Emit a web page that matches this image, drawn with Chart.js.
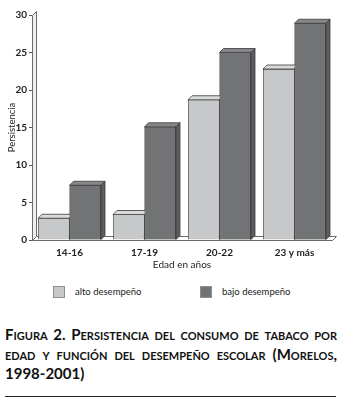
<!DOCTYPE html>
<html>
<head>
<meta charset="utf-8">
<script src="https://cdn.jsdelivr.net/npm/chart.js@4.4.0/dist/chart.umd.min.js"></script>
<style>
  html,body{margin:0;padding:0;background:#fff;}
  body{width:346px;height:400px;position:relative;overflow:hidden;font-family:Lato,"Open Sans",sans-serif;color:#222;}
  #c{position:absolute;left:0;top:0;}
  .leg{position:absolute;top:286px;font-size:9.5px;line-height:12px;display:flex;align-items:center;color:#1a1a1a;}
  .leg i{display:inline-block;width:12px;height:12px;border:1px solid #8d8e90;margin-right:10px;box-sizing:border-box;}
  #cap{position:absolute;left:5px;top:325px;width:332px;font-weight:bold;font-size:15px;line-height:19.5px;font-variant:small-caps;color:#111;}
  #cap div{text-align:justify;text-align-last:justify;white-space:nowrap;}
  #cap div.last{text-align-last:left;}
  #rule{position:absolute;left:5px;top:396px;width:331px;border-top:1px solid #222;}
</style>
</head>
<body>
<canvas id="c" width="346" height="275"></canvas>
<div class="leg" id="leg0" style="left:53px"><i style="background:#c6c8c9"></i><span></span></div>
<div class="leg" id="leg1" style="left:200px"><i style="background:#727375"></i><span></span></div>
<div id="cap">
  <div>Figura 2. Persistencia del consumo de tabaco por</div>
  <div>edad y función del desempeño escolar (Morelos,</div>
  <div class="last">1998-2001)</div>
</div>
<div id="rule"></div>
<script>
const categories = ["14-16", "17-19", "20-22", "23 y más"];
const seriesNames = ["alto desempeño", "bajo desempeño"];
const altoDesempeno = [2.9, 3.4, 18.7, 22.8];
const bajoDesempeno = [7.3, 15.1, 25.0, 28.9];
const yTicks = [0, 5, 10, 15, 20, 25, 30];

document.querySelector('#leg0 span').textContent = seriesNames[0];
document.querySelector('#leg1 span').textContent = seriesNames[1];

const D = 4;
const shades = [
  {front:'#c6c8c9', top:'#d9dadb', side:'#a9abac'},
  {front:'#727375', top:'#86878a', side:'#5c5d5f'}
];
function drawTopSide(ctx, bar, sh){
  const p = bar.getProps(['x','y','base','width'], true);
  const l = p.x - p.width/2, r = p.x + p.width/2, t = p.y, b = p.base;
  ctx.fillStyle = sh.top;
  ctx.beginPath();
  ctx.moveTo(l,t); ctx.lineTo(l+D,t-D); ctx.lineTo(r+D,t-D); ctx.lineTo(r,t); ctx.closePath();
  ctx.fill(); ctx.stroke();
  ctx.fillStyle = sh.side;
  ctx.beginPath();
  ctx.moveTo(r,t); ctx.lineTo(r+D,t-D); ctx.lineTo(r+D,b-D); ctx.lineTo(r,b); ctx.closePath();
  ctx.fill(); ctx.stroke();
}
const bar3d = {
  id:'bar3d',
  beforeDatasetsDraw(chart){
    const {ctx, chartArea:a} = chart;
    ctx.save();
    ctx.lineWidth = 1;
    ctx.strokeStyle = '#6a6a6a';
    ctx.fillStyle = '#eeeeee';
    ctx.beginPath();
    ctx.moveTo(a.left+0.5, a.bottom+0.5);
    ctx.lineTo(a.left+0.5, a.top+0.5);
    ctx.lineTo(a.left+D+0.5, a.top-D+0.5);
    ctx.lineTo(a.left+D+0.5, a.bottom-D+0.5);
    ctx.closePath();
    ctx.fill(); ctx.stroke();
    ctx.fillStyle = '#ffffff';
    ctx.beginPath();
    ctx.moveTo(a.left+0.5, a.bottom+0.5);
    ctx.lineTo(a.right+0.5, a.bottom+0.5);
    ctx.lineTo(a.right+D+0.5, a.bottom-D+0.5);
    ctx.lineTo(a.left+D+0.5, a.bottom-D+0.5);
    ctx.closePath();
    ctx.fill(); ctx.stroke();
    ctx.restore();
  },
  afterDatasetsDraw(chart){
    const {ctx} = chart;
    const m0 = chart.getDatasetMeta(0), m1 = chart.getDatasetMeta(1);
    ctx.save();
    ctx.lineWidth = 0.8;
    ctx.strokeStyle = '#3a3a3a';
    m0.data.forEach(bar => drawTopSide(ctx, bar, shades[0]));
    m1.data.forEach(bar => { bar.draw(ctx); ctx.lineWidth = 0.8; ctx.strokeStyle = '#3a3a3a'; drawTopSide(ctx, bar, shades[1]); });
    ctx.restore();
  }
};

new Chart(document.getElementById('c'), {
  type:'bar',
  data:{
    labels: categories,
    datasets:[
      {label:seriesNames[0], data:altoDesempeno, backgroundColor:shades[0].front, borderColor:'#3a3a3a', borderWidth:0.8},
      {label:seriesNames[1], data:bajoDesempeno, backgroundColor:shades[1].front, borderColor:'#3a3a3a', borderWidth:0.8}
    ]
  },
  options:{
    responsive:false,
    animation:false,
    devicePixelRatio:1,
    layout:{padding:{top:15, right:14, bottom:0, left:0}},
    datasets:{bar:{categoryPercentage:0.84, barPercentage:1}},
    plugins:{legend:{display:false}, tooltip:{enabled:false}},
    scales:{
      x:{
        grid:{display:false, drawTicks:false}, border:{display:false},
        ticks:{color:'#222', padding:7, font:{family:'Lato', size:10, weight:'bold'}},
        title:{display:true, text:'Edad en años', color:'#222', font:{family:'Lato', size:10}, padding:{top:2,bottom:4}},
        afterFit(s){ s.height = 35; }
      },
      y:{
        min:0, max:30,
        afterBuildTicks(s){ s.ticks = yTicks.map(v=>({value:v})); },
        grid:{drawOnChartArea:false, drawTicks:true, tickLength:3, color:'#555'},
        border:{display:false},
        ticks:{color:'#222', padding:2, font:{family:'Lato', size:10, weight:'bold'}},
        title:{display:true, text:'Persistencia', color:'#222', font:{family:'Lato', size:9.5}, padding:{top:6,bottom:2}},
        afterFit(s){ s.width = 32; }
      }
    }
  },
  plugins:[bar3d]
});
</script>
</body>
</html>
